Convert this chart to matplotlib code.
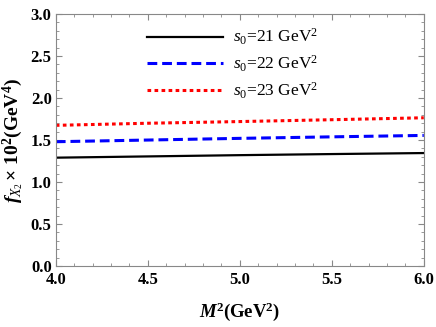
import matplotlib
matplotlib.use("Agg")
import matplotlib.pyplot as plt
import numpy as np
from matplotlib.ticker import MultipleLocator

# Borel parameter and curves
M2 = [4.0, 4.5, 5.0, 5.5, 6.0]
f_s21 = [1.29, 1.305, 1.32, 1.333, 1.345]
f_s22 = [1.48, 1.50, 1.52, 1.538, 1.555]
f_s23 = [1.675, 1.70, 1.72, 1.742, 1.765]
labels = [r"$s_0$=21 GeV$^2$", r"$s_0$=22 GeV$^2$", r"$s_0$=23 GeV$^2$"]

plt.rcParams["font.family"] = "Liberation Serif"
plt.rcParams["mathtext.fontset"] = "custom"
plt.rcParams["mathtext.rm"] = "Liberation Serif"
plt.rcParams["mathtext.it"] = "Liberation Serif:italic"
plt.rcParams["mathtext.bf"] = "Liberation Serif:bold"
plt.rcParams["mathtext.bfit"] = "Liberation Serif:italic:bold"

fig = plt.figure(figsize=(4.36, 3.27), dpi=100)
ax = fig.add_axes([0.128, 0.1865, 0.844, 0.7705])

ax.plot(M2, f_s21, color="black", lw=1.6, label=labels[0])
ax.plot(M2, f_s22, color="blue", lw=2.2, dashes=(3.2, 1.6), label=labels[1])
ax.plot(M2, f_s23, color="red", lw=2.2, dashes=(1.2, 1.1), label=labels[2])

ax.set_xlim(4.0, 6.0)
ax.set_ylim(0.0, 3.0)
ax.xaxis.set_major_locator(MultipleLocator(0.5))
ax.xaxis.set_minor_locator(MultipleLocator(0.1))
ax.yaxis.set_major_locator(MultipleLocator(0.5))
ax.yaxis.set_minor_locator(MultipleLocator(0.1))
ax.tick_params(which="both", direction="in", top=True, right=True, color="#888888")
ax.tick_params(which="major", length=4, width=0.8)
ax.tick_params(which="minor", length=2, width=0.6)
ax.tick_params(axis="x", which="major", pad=4)
ax.tick_params(axis="y", which="major", pad=3)
for sp in ax.spines.values():
    sp.set_color("#888888")
for lab in ax.get_xticklabels() + ax.get_yticklabels():
    lab.set_fontweight("bold")
    lab.set_fontsize(12)

ax.set_xlabel(r"$\mathbfit{M}^\mathbf{2}$(GeV$^\mathbf{2}$)", fontsize=13.5, fontweight="bold", labelpad=9)
ax.set_ylabel(r"$\mathbfit{f}_{X_2}\,\mathbf{\times\ 10^2}$(GeV$^\mathbf{4}$)", fontsize=14, fontweight="bold", labelpad=3)

ax.legend(loc="upper left", bbox_to_anchor=(147 / 436, 1 - 27 / 327), bbox_transform=fig.transFigure,
          frameon=False, fontsize=12.5, handlelength=4.4, handletextpad=0.55, labelspacing=0.38,
          borderpad=0, borderaxespad=0)

fig.savefig("out.png", dpi=100)
